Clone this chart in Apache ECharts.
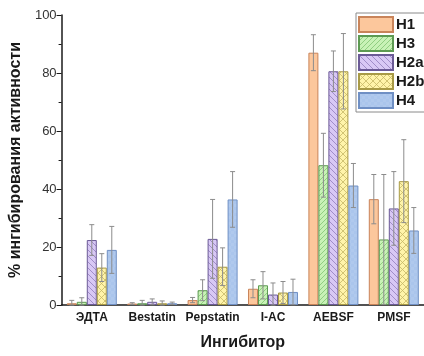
<!DOCTYPE html>
<html>
<head>
<meta charset="utf-8">
<script src="https://cdn.jsdelivr.net/npm/echarts@6/dist/echarts.min.js"></script>
<style>
  html, body { margin: 0; padding: 0; background: #fff; }
  #chart { width: 424px; height: 356px; }
</style>
</head>
<body>
<div id="chart"></div>
<script>
// categories and series
var inhibitors = ['ЭДТА', 'Bestatin', 'Pepstatin', 'I-AC', 'AEBSF', 'PMSF'];
var seriesNames = ['H1', 'H3', 'H2a', 'H2b', 'H4'];

// mean values
var h1 = [0.6, 0.5, 1.7, 5.6, 87.0, 36.5];
var h3 = [1.1, 0.6, 5.1, 6.8, 48.2, 22.6];
var h2a = [22.4, 1.1, 22.8, 3.6, 80.6, 33.3];
var h2b = [12.9, 0.6, 13.2, 4.3, 80.6, 42.7];
var h4 = [19.0, 0.6, 36.4, 4.5, 41.2, 25.7];

// standard deviations
var h1Err = [1.0, 0.3, 0.9, 3.1, 6.2, 8.5];
var h3Err = [1.4, 1.0, 3.6, 4.7, 11.0, 22.4];
var h2aErr = [5.3, 1.0, 13.6, 4.0, 7.0, 12.7];
var h2bErr = [4.8, 0.8, 6.5, 3.8, 13.0, 14.3];
var h4Err = [8.1, 0.4, 9.6, 4.4, 7.6, 7.9];

var yTicks = [0, 20, 40, 60, 80, 100];

var values = [h1, h3, h2a, h2b, h4];
var errors = [h1Err, h3Err, h2aErr, h2bErr, h4Err];

var FONT = 'Liberation Sans, Arial, sans-serif';
var BAR_W = 10;

// заливки со штриховкой
function makePattern(bg, line, kind) {
    var s = kind === 'cross' ? 7 : (kind === 'slash' ? 5 : 6);
    var c = document.createElement('canvas');
    c.width = s; c.height = s;
    var ctx = c.getContext('2d');
    ctx.fillStyle = bg;
    ctx.fillRect(0, 0, s, s);
    ctx.strokeStyle = line;
    ctx.lineWidth = 0.8;
    function slash() {
        ctx.beginPath();
        ctx.moveTo(0, s); ctx.lineTo(s, 0);
        ctx.moveTo(-1, 1); ctx.lineTo(1, -1);
        ctx.moveTo(s - 1, s + 1); ctx.lineTo(s + 1, s - 1);
        ctx.stroke();
    }
    function backslash() {
        ctx.beginPath();
        ctx.moveTo(0, 0); ctx.lineTo(s, s);
        ctx.moveTo(-1, s - 1); ctx.lineTo(1, s + 1);
        ctx.moveTo(s - 1, -1); ctx.lineTo(s + 1, 1);
        ctx.stroke();
    }
    if (kind === 'slash') slash();
    if (kind === 'back') backslash();
    if (kind === 'cross') { slash(); backslash(); }
    if (kind === 'grid') {
        ctx.fillStyle = 'rgba(255,255,255,0.08)';
        ctx.fillRect(0, 0, s / 2, s / 2);
        ctx.fillRect(s / 2, s / 2, s / 2, s / 2);
    }
    return { image: c, repeat: 'repeat' };
}

var fills = [
    '#fcc79c',
    makePattern('#c8f2b6', '#82c474', 'slash'),
    makePattern('#d8c8f5', '#927ebd', 'back'),
    makePattern('#fff4aa', '#c6b866', 'cross'),
    makePattern('#aac5ec', '#aac5ec', 'grid')
];
var borders = ['#c9845a', '#5d9a52', '#6b5a96', '#a89a46', '#6f8fc4'];

var series = [];
for (var i = 0; i < 5; i++) {
    series.push({
        name: seriesNames[i],
        type: 'bar',
        barWidth: BAR_W,
        barGap: '0%',
        itemStyle: { color: fills[i], borderColor: borders[i], borderWidth: 1 },
        data: values[i],
        z: 2
    });
}

// error bars
for (var k = 0; k < 5; k++) {
    (function (idx) {
        var data = [];
        for (var j = 0; j < inhibitors.length; j++) {
            data.push([j, values[idx][j], errors[idx][j]]);
        }
        series.push({
            name: seriesNames[idx] + '_err',
            type: 'custom',
            z: 5,
            silent: true,
            encode: { x: 0, y: 1 },
            data: data,
            renderItem: function (params, api) {
                var cat = api.value(0);
                var v = api.value(1), e = api.value(2);
                var x = api.coord([cat, 0])[0] + (idx - 2) * BAR_W;
                var top = api.coord([cat, v + e])[1];
                var bot = api.coord([cat, Math.max(0, v - e)])[1];
                var cap = 2.5;
                var st = { stroke: '#8c8c8c', lineWidth: 1 };
                return {
                    type: 'group',
                    children: [
                        { type: 'line', shape: { x1: x, y1: top, x2: x, y2: bot }, style: st },
                        { type: 'line', shape: { x1: x - cap, y1: top, x2: x + cap, y2: top }, style: st },
                        { type: 'line', shape: { x1: x - cap, y1: bot, x2: x + cap, y2: bot }, style: st }
                    ]
                };
            }
        });
    })(k);
}

var chart = echarts.init(document.getElementById('chart'));
chart.setOption({
    animation: false,
    backgroundColor: '#fff',
    textStyle: { fontFamily: FONT },
    grid: { left: 58, right: 0, top: 15, bottom: 46 },
    legend: {
        data: seriesNames,
        orient: 'vertical',
        left: 356,
        top: 13,
        itemWidth: 34,
        itemHeight: 15,
        itemGap: 2,
        padding: [3, 6, 3, 2],
        borderColor: '#8a8a8a',
        borderWidth: 1,
        backgroundColor: '#fff',
        icon: 'rect',
        textStyle: { fontFamily: FONT, fontSize: 15, fontWeight: 'bold', color: '#1a1a1a', lineHeight: 17, padding: [0, 0, 0, -2] }
    },
    xAxis: {
        type: 'category',
        data: inhibitors,
        name: 'Ингибитор',
        nameLocation: 'middle',
        nameGap: 30,
        nameTextStyle: { fontFamily: FONT, fontSize: 16, fontWeight: 'bold', color: '#1a1a1a' },
        axisLine: { lineStyle: { color: '#1a1a1a', width: 1.5 } },
        axisTick: { alignWithLabel: true, length: 4, lineStyle: { color: '#1a1a1a' } },
        axisLabel: { interval: 0, fontFamily: FONT, fontSize: 12, fontWeight: 'bold', color: '#1a1a1a', margin: 7 }
    },
    yAxis: {
        type: 'value',
        min: yTicks[0],
        max: yTicks[yTicks.length - 1],
        interval: 20,
        name: '% ингибирования активности',
        nameLocation: 'middle',
        nameGap: 36,
        nameTextStyle: { fontFamily: FONT, fontSize: 16, fontWeight: 'bold', color: '#1a1a1a' },
        axisLine: { show: true, lineStyle: { color: '#1a1a1a', width: 1.5 } },
        axisTick: { show: true, length: 5, lineStyle: { color: '#1a1a1a' } },
        minorTick: { show: true, splitNumber: 2, length: 3, lineStyle: { color: '#1a1a1a' } },
        splitLine: { show: false },
        axisLabel: { fontFamily: FONT, fontSize: 13, color: '#333', margin: 5 }
    },
    series: series
});
</script>
</body>
</html>
